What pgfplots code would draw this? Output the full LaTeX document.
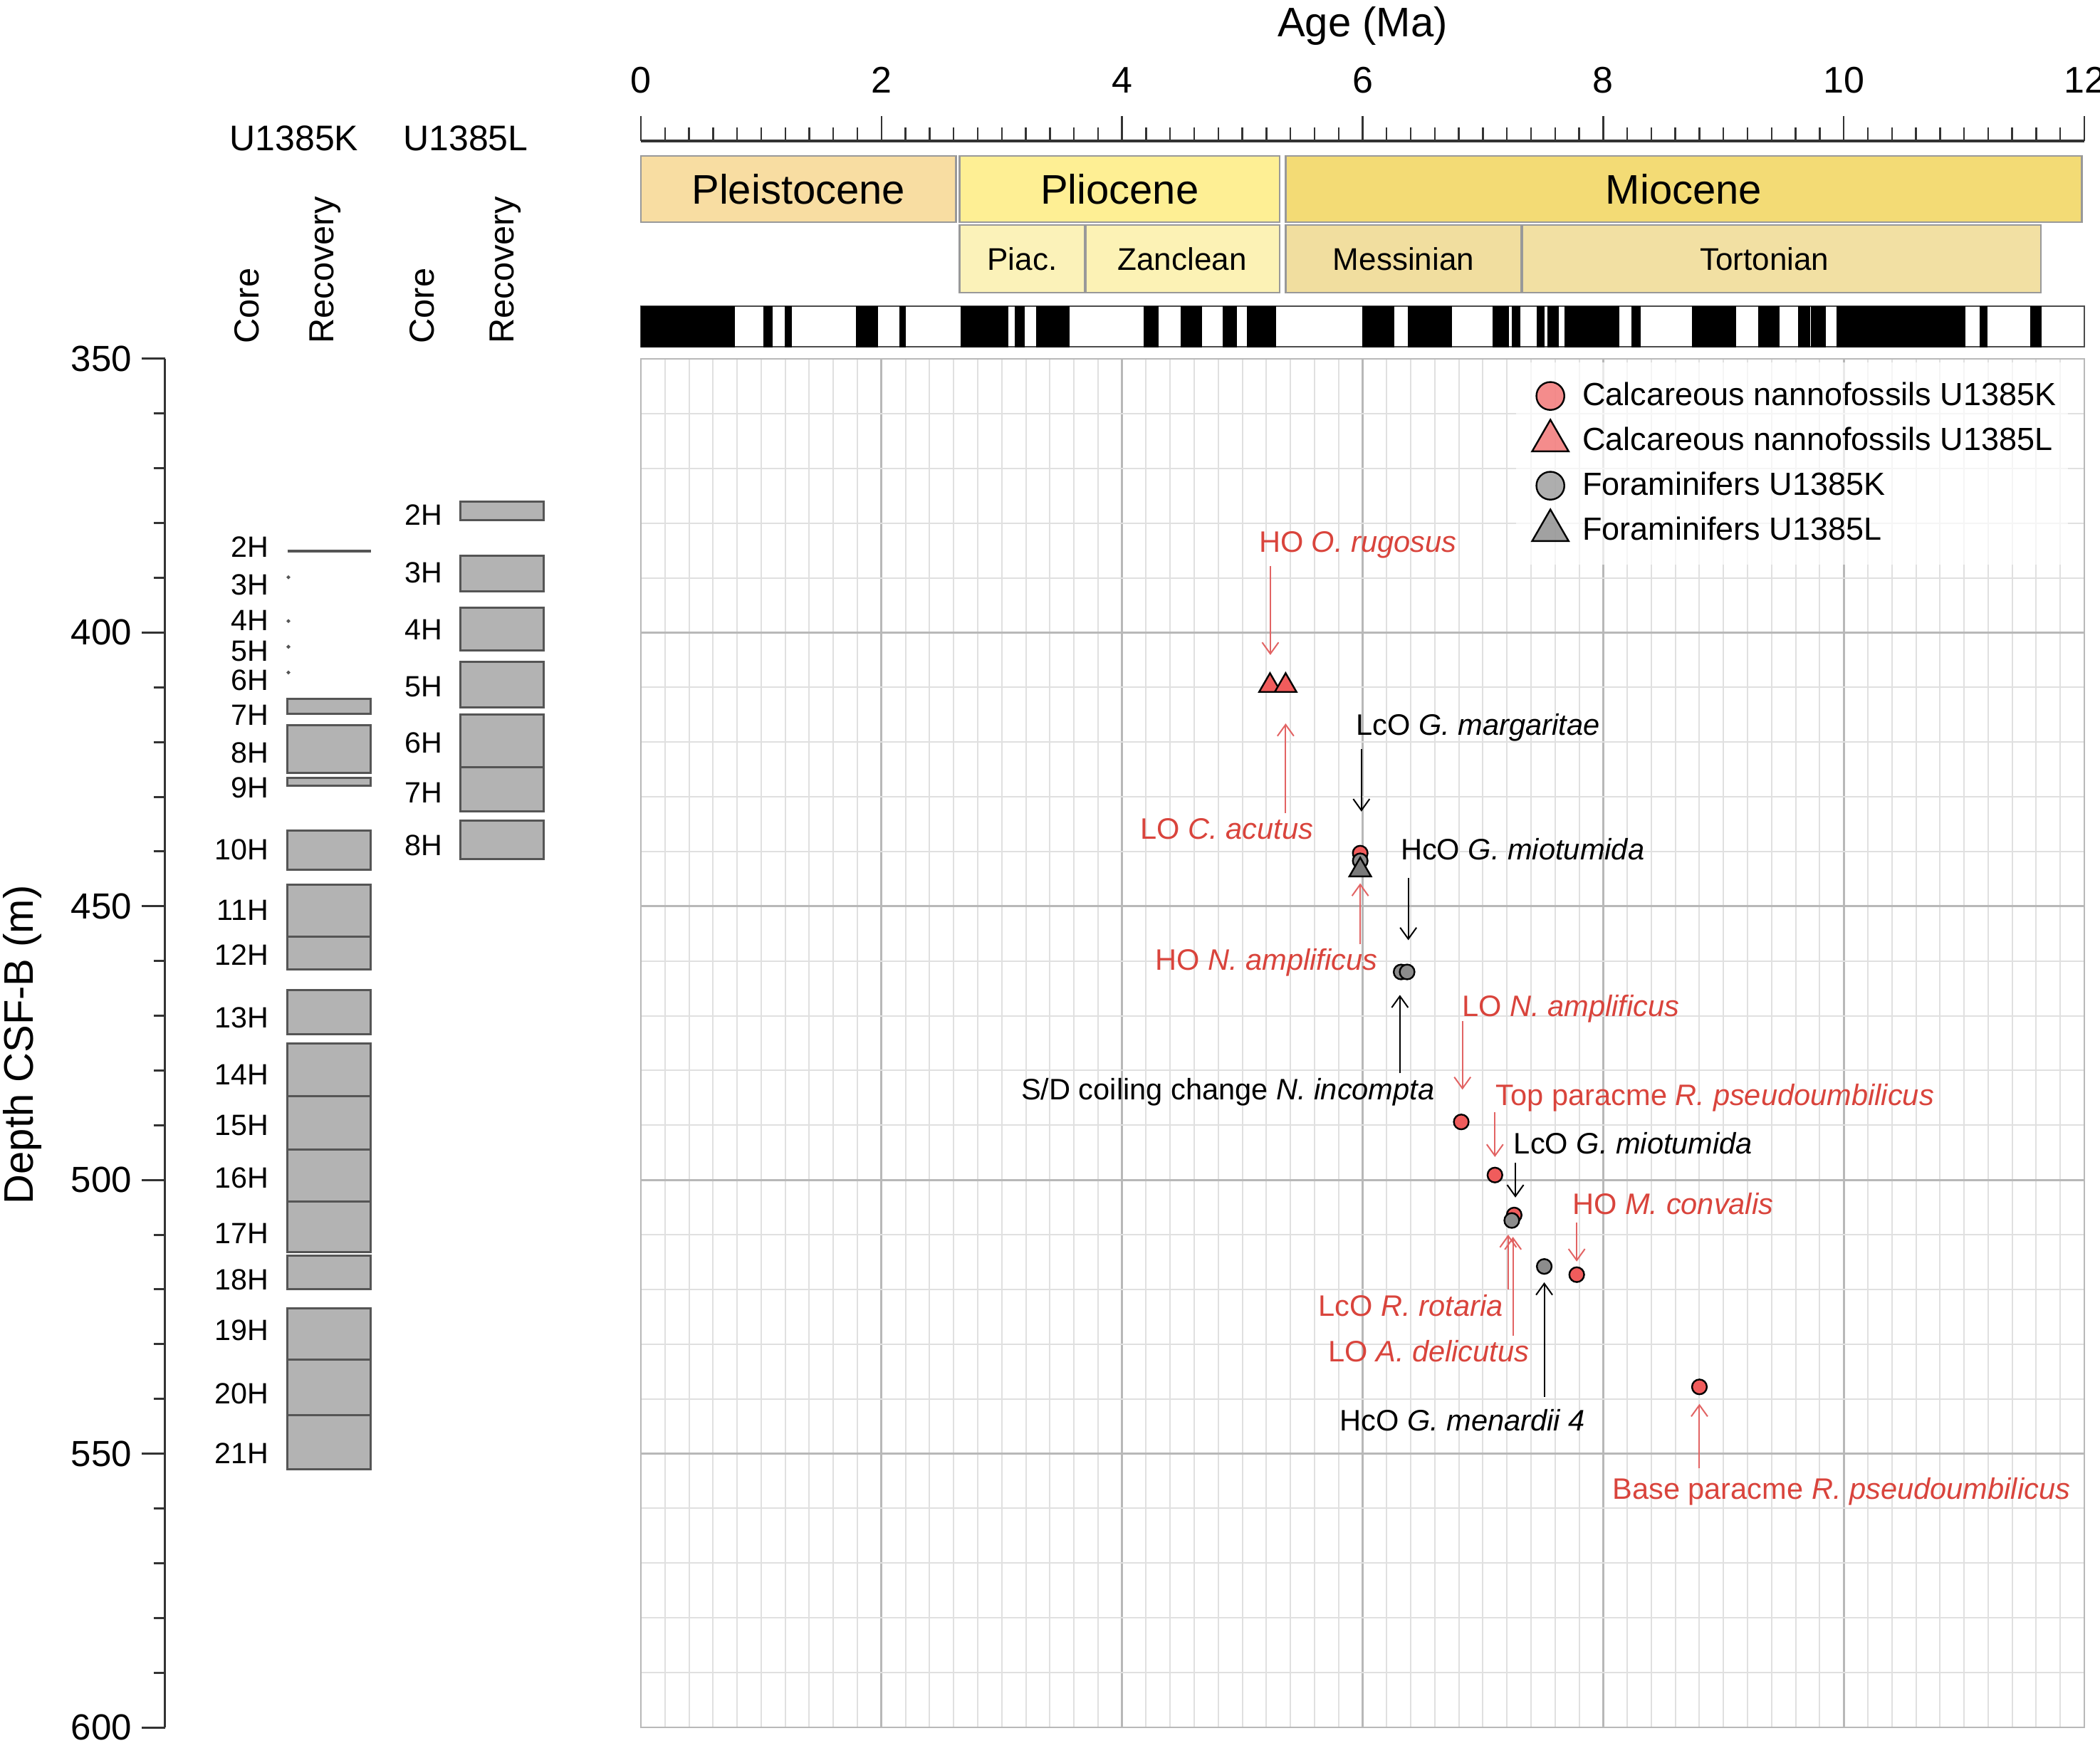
\documentclass[border=0pt]{standalone}
\usepackage{fontspec}
\setmainfont{Liberation Sans}
\usepackage{pgfplots}
\pgfplotsset{compat=1.18}
\usetikzlibrary{arrows.meta}
\definecolor{nred}{RGB}{240,92,92}
\definecolor{tred}{RGB}{217,68,60}
\definecolor{ared}{RGB}{226,100,100}
\definecolor{fgray}{RGB}{140,140,140}
\definecolor{tgray}{RGB}{122,122,122}
\definecolor{pleist}{RGB}{248,221,162}
\definecolor{plio}{RGB}{254,239,148}
\definecolor{mio}{RGB}{243,219,117}
\definecolor{piac}{RGB}{251,242,185}
\definecolor{zanc}{RGB}{252,242,181}
\definecolor{mess}{RGB}{241,222,159}
\definecolor{tort}{RGB}{242,224,163}
\definecolor{corefill}{RGB}{179,179,179}
\definecolor{coredraw}{RGB}{85,85,85}
\newcommand{\fs}[1]{\fontsize{#1}{#1}\selectfont}
\pgfplotsset{
  bigleg/.style={legend image code/.code={\path[draw=none,fill=none] (0pt,-7.875pt) rectangle (16pt,7.875pt); \draw[##1, mark size=#1] plot coordinates {(8pt,0pt)};}},
}
\tikzset{
  annot/.style={inner sep=0pt, text height=0.716em, text depth=0pt, font=\fs{10.4}},
  arr/.style={line width=0.5pt, -{Straight Barb[length=4pt,width=5.75pt]}},
  corebox/.style={fill=corefill, draw=coredraw, line width=0.75pt},
  corelab/.style={anchor=east, inner sep=0pt, text height=0.716em, text depth=0pt, font=\fs{10.3}},
}
\newcommand{\coreK}[2]{\addplot[corebox] coordinates {(404,#1)(521,#1)(521,#2)(404,#2)} -- cycle;}
\newcommand{\coreL}[2]{\addplot[corebox] coordinates {(646,#1)(763,#1)(763,#2)(646,#2)} -- cycle;}
\newcommand{\pn}[2]{\addplot[fill=black, draw=black, line width=0.2pt] coordinates {(#1,-430)(#2,-430)(#2,-487)(#1,-487)} -- cycle;}
\newcommand{\ebox}[5]{\addplot[fill=#5, draw=black!40, line width=0.6pt] coordinates {(#1,#3)(#2,#3)(#2,#4)(#1,#4)} -- cycle;}
\begin{document}
\begin{tikzpicture}
\useasboundingbox (0,0) rectangle (737.25pt,615.5pt);
% ---------------- core columns + depth axis ----------------
\begin{axis}[
  at={(58pt,9pt)}, anchor=south west, scale only axis,
  width=137pt, height=480.5pt,
  xmin=232, xmax=780, ymin=350, ymax=600, y dir=reverse,
  axis x line=none, axis y line*=left,
  ytick={350,400,450,500,550,600},
  minor ytick={360,370,380,390,410,420,430,440,460,470,480,490,510,520,530,540,560,570,580,590},
  tick align=outside, major tick length=8.25pt, minor tick length=4pt,
  tick style={black!80, line width=0.75pt},
  axis line style={black!80, line width=0.75pt},
  yticklabel style={font=\fs{12.75}},
  /pgf/number format/assume math mode=true,
  clip=false,
]
% U1385K
\addplot[draw=coredraw, line width=0.9pt] coordinates {(404,385.1)(521,385.1)};
\addplot[only marks, mark=*, mark size=0.45pt, draw=coredraw, fill=coredraw] coordinates {(405,389.9)(405,397.9)(405,402.6)(405,407.3)};
\coreK{412.1}{414.8}
\coreK{416.9}{425.7}
\coreK{426.6}{428.0}
\coreK{436.2}{443.3}
\coreK{446.0}{455.5}
\coreK{455.5}{461.5}
\coreK{465.3}{473.4}
\coreK{475.0}{484.7}
\coreK{484.7}{494.5}
\coreK{494.5}{504.0}
\coreK{504.0}{513.2}
\coreK{513.8}{519.9}
\coreK{523.5}{532.8}
\coreK{532.8}{542.9}
\coreK{542.9}{552.8}
% U1385L
\coreL{376.1}{379.4}
\coreL{385.9}{392.5}
\coreL{395.5}{403.2}
\coreL{405.4}{413.7}
\coreL{415.0}{424.6}
\coreL{424.6}{432.7}
\coreL{434.4}{441.4}
% core labels
\node[corelab] at (axis cs:378,384.3) {2H};
\node[corelab] at (axis cs:378,391.3) {3H};
\node[corelab] at (axis cs:378,397.7) {4H};
\node[corelab] at (axis cs:378,403.4) {5H};
\node[corelab] at (axis cs:378,408.7) {6H};
\node[corelab] at (axis cs:378,415.0) {7H};
\node[corelab] at (axis cs:378,421.9) {8H};
\node[corelab] at (axis cs:378,428.3) {9H};
\node[corelab] at (axis cs:378,439.6) {10H};
\node[corelab] at (axis cs:378,450.7) {11H};
\node[corelab] at (axis cs:378,458.9) {12H};
\node[corelab] at (axis cs:378,470.4) {13H};
\node[corelab] at (axis cs:378,480.7) {14H};
\node[corelab] at (axis cs:378,490.0) {15H};
\node[corelab] at (axis cs:378,499.6) {16H};
\node[corelab] at (axis cs:378,509.8) {17H};
\node[corelab] at (axis cs:378,518.2) {18H};
\node[corelab] at (axis cs:378,527.4) {19H};
\node[corelab] at (axis cs:378,539.0) {20H};
\node[corelab] at (axis cs:378,549.9) {21H};
\node[corelab] at (axis cs:622,378.5) {2H};
\node[corelab] at (axis cs:622,389.0) {3H};
\node[corelab] at (axis cs:622,399.4) {4H};
\node[corelab] at (axis cs:622,409.9) {5H};
\node[corelab] at (axis cs:622,420.1) {6H};
\node[corelab] at (axis cs:622,429.3) {7H};
\node[corelab] at (axis cs:622,438.8) {8H};
% headers
\node[font=\fs{12.5}, inner sep=0pt] at (axis cs:413,309.7) {U1385K};
\node[font=\fs{12.5}, inner sep=0pt] at (axis cs:654,309.7) {U1385L};
\node[font=\fs{12.2}, inner sep=0pt, rotate=90, anchor=west] at (axis cs:347,347.3) {Core};
\node[font=\fs{12.2}, inner sep=0pt, rotate=90, anchor=west] at (axis cs:457,347.3) {Recovery};
\node[font=\fs{12.2}, inner sep=0pt, rotate=90, anchor=west] at (axis cs:593,347.3) {Core};
\node[font=\fs{12.2}, inner sep=0pt, rotate=90, anchor=west] at (axis cs:710,347.3) {Recovery};
\node[font=\fs{14.5}, rotate=90] at (axis cs:32,475.3) {Depth CSF-B (m)};
\end{axis}
% ---------------- time scale axis ----------------
\begin{axis}[
  at={(225pt,493.75pt)}, anchor=south west, scale only axis,
  width=506.75pt, height=72.25pt,
  xmin=0, xmax=12, ymin=-487, ymax=-198,
  axis x line*=top, axis y line=none,
  xtick={0,2,4,6,8,10,12}, minor x tick num=9, tick align=outside,
  major tick length=8.75pt, minor tick length=4.75pt,
  tick style={black!80, line width=0.6pt},
  axis line style={black!80, line width=0.9pt},
  xticklabel style={font=\fs{13}, yshift=4.5pt},
  /pgf/number format/assume math mode=true,
  clip=false,
]
\ebox{0}{2.62}{-219}{-312}{pleist}
\ebox{2.65}{5.31}{-219}{-312}{plio}
\ebox{5.36}{11.98}{-219}{-312}{mio}
\ebox{2.65}{3.69}{-316}{-411}{piac}
\ebox{3.70}{5.31}{-316}{-411}{zanc}
\ebox{5.36}{7.32}{-316}{-411}{mess}
\ebox{7.33}{11.64}{-316}{-411}{tort}
\node[font=\fs{14.5}] at (axis cs:1.31,-265.5) {Pleistocene};
\node[font=\fs{14.5}] at (axis cs:3.98,-265.5) {Pliocene};
\node[font=\fs{14.5}] at (axis cs:8.67,-265.5) {Miocene};
\node[font=\fs{11}] at (axis cs:3.17,-363.5) {Piac.};
\node[font=\fs{11}] at (axis cs:4.50,-363.5) {Zanclean};
\node[font=\fs{11}] at (axis cs:6.34,-363.5) {Messinian};
\node[font=\fs{11}] at (axis cs:9.34,-363.5) {Tortonian};
% polarity
\addplot[fill=white, draw=black!70, line width=0.5pt] coordinates {(0,-430)(12,-430)(12,-487)(0,-487)} -- cycle;
\pn{0.00}{0.78}
\pn{1.02}{1.09}
\pn{1.20}{1.25}
\pn{1.79}{1.97}
\pn{2.15}{2.20}
\pn{2.66}{3.05}
\pn{3.11}{3.19}
\pn{3.29}{3.56}
\pn{4.18}{4.30}
\pn{4.49}{4.66}
\pn{4.84}{4.95}
\pn{5.04}{5.28}
\pn{6.00}{6.26}
\pn{6.38}{6.74}
\pn{7.08}{7.21}
\pn{7.24}{7.31}
\pn{7.45}{7.51}
\pn{7.54}{7.63}
\pn{7.68}{8.13}
\pn{8.24}{8.31}
\pn{8.74}{9.10}
\pn{9.29}{9.46}
\pn{9.62}{9.72}
\pn{9.73}{9.85}
\pn{9.94}{11.01}
\pn{11.13}{11.19}
\pn{11.55}{11.64}
\node[font=\fs{14.5}, anchor=base] at (axis cs:6,-52) {Age (Ma)};
\end{axis}
% ---------------- main axis ----------------
\begin{axis}[
  at={(225pt,9pt)}, anchor=south west, scale only axis,
  width=506.75pt, height=480.5pt,
  xmin=0, xmax=12, ymin=350, ymax=600, y dir=reverse,
  xtick={0,2,4,6,8,10,12}, ytick={350,400,450,500,550,600},
  minor x tick num=9, minor y tick num=4,
  xticklabels={}, yticklabels={},
  grid=both,
  major grid style={line width=0.7pt, color=black!28},
  minor grid style={line width=0.5pt, color=black!12},
  major tick length=0pt, minor tick length=0pt,
  axis line style={black!28, line width=0.7pt},
  clip=false,
  legend style={at={(0.606,0.998)}, anchor=north west, draw=none, fill=white, fill opacity=0.7, text opacity=1,
    inner sep=4pt, row sep=0pt, font=\fs{11.25}, nodes={inner sep=0pt},
    /tikz/every odd column/.append style={column sep=3.25pt}},
  legend cell align=left,
]
\addplot[only marks, mark=*, mark size=2.6pt, draw=black, fill=nred, line width=0.6pt, bigleg=4.9pt]
  coordinates {(5.98,440.3)(6.82,489.4)(7.10,499.1)(7.26,506.4)(7.78,517.3)(8.80,537.8)};
\addlegendentry{Calcareous nannofossils U1385K}
\addplot[only marks, mark=triangle*, mark size=4.4pt, draw=black, fill=nred, line width=0.6pt, bigleg=7.4pt]
  coordinates {(5.23,409.7)(5.36,409.7)};
\addlegendentry{Calcareous nannofossils U1385L}
\addplot[only marks, mark=*, mark size=2.6pt, draw=black, fill=fgray, line width=0.6pt, bigleg=4.9pt]
  coordinates {(5.98,441.7)(6.32,462.0)(6.37,462.0)(7.24,507.4)(7.51,515.8)};
\addlegendentry{Foraminifers U1385K}
\addplot[only marks, mark=triangle*, mark size=4.4pt, draw=black, fill=tgray, line width=0.6pt, bigleg=7.4pt]
  coordinates {(5.98,443.4)};
\addlegendentry{Foraminifers U1385L}
% annotations
\draw[arr, ared] (axis cs:5.233,387.8) -- (axis cs:5.233,404.1);
\node[annot, tred] at (axis cs:5.96,383.4) {HO \textit{O. rugosus}};
\draw[arr, ared] (axis cs:5.36,433.0) -- (axis cs:5.36,416.6);
\node[annot, tred] at (axis cs:4.87,435.9) {LO \textit{C. acutus}};
\draw[arr, black] (axis cs:5.99,421.3) -- (axis cs:5.99,432.7);
\node[annot, black] at (axis cs:6.96,416.9) {LcO \textit{G. margaritae}};
\draw[arr, black] (axis cs:6.38,444.8) -- (axis cs:6.38,456.2);
\node[annot, black] at (axis cs:7.33,439.7) {HcO \textit{G. miotumida}};
\draw[arr, ared] (axis cs:5.98,456.9) -- (axis cs:5.98,445.8);
\node[annot, tred] at (axis cs:5.20,459.8) {HO \textit{N. amplificus}};
\draw[arr, black] (axis cs:6.31,480.5) -- (axis cs:6.31,466.2);
\node[annot, black] at (axis cs:4.88,483.5) {S/D coiling change \textit{N. incompta}};
\draw[arr, ared] (axis cs:6.83,471.0) -- (axis cs:6.83,483.5);
\node[annot, tred] at (axis cs:7.73,468.2) {LO \textit{N. amplificus}};
\draw[arr, ared] (axis cs:7.10,487.6) -- (axis cs:7.10,495.8);
\node[annot, tred] at (axis cs:8.93,484.5) {Top paracme \textit{R. pseudoumbilicus}};
\draw[arr, black] (axis cs:7.27,496.9) -- (axis cs:7.27,503.2);
\node[annot, black] at (axis cs:8.25,493.4) {LcO \textit{G. miotumida}};
\draw[arr, ared] (axis cs:7.78,507.8) -- (axis cs:7.78,514.9);
\node[annot, tred] at (axis cs:8.58,504.4) {HO \textit{M. convalis}};
\draw[arr, ared] (axis cs:7.21,520.0) -- (axis cs:7.21,510.0);
\node[annot, tred] at (axis cs:6.40,523.0) {LcO \textit{R. rotaria}};
\draw[arr, ared] (axis cs:7.25,528.5) -- (axis cs:7.25,510.4);
\node[annot, tred] at (axis cs:6.55,531.3) {LO \textit{A. delicutus}};
\draw[arr, black] (axis cs:7.51,539.6) -- (axis cs:7.51,518.7);
\node[annot, black] at (axis cs:6.83,543.9) {HcO \textit{G. menardii 4}};
\draw[arr, ared] (axis cs:8.80,552.7) -- (axis cs:8.80,540.9);
\node[annot, tred] at (axis cs:9.98,556.5) {Base paracme \textit{R. pseudoumbilicus}};
\end{axis}
\end{tikzpicture}
\end{document}
